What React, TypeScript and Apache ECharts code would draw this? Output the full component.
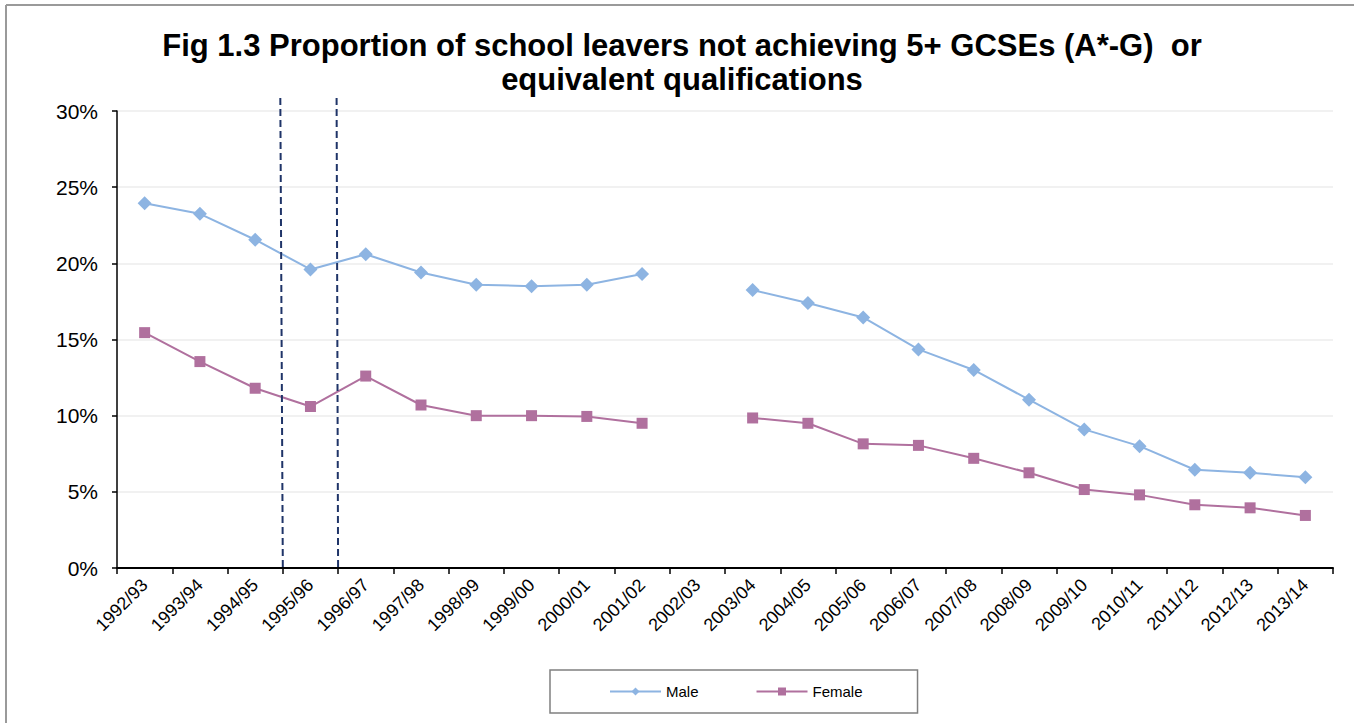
import React, { useEffect, useRef } from "react";
import * as echarts from "echarts";

const TITLE = "Fig 1.3 Proportion of school leavers not achieving 5+ GCSEs (A*-G)  or\nequivalent qualifications";

const categories = [
  "1992/93", "1993/94", "1994/95", "1995/96", "1996/97", "1997/98", "1998/99",
  "1999/00", "2000/01", "2001/02", "2002/03", "2003/04", "2004/05", "2005/06",
  "2006/07", "2007/08", "2008/09", "2009/10", "2010/11", "2011/12", "2012/13", "2013/14",
];

const maleValues: (number | null)[] = [
  23.95, 23.25, 21.55, 19.6, 20.6, 19.4, 18.6, 18.5, 18.6, 19.3, null,
  18.25, 17.4, 16.45, 14.35, 13.0, 11.05, 9.1, 8.0, 6.45, 6.25, 5.95,
];

const femaleValues: (number | null)[] = [
  15.45, 13.55, 11.8, 10.6, 12.6, 10.7, 10.0, 10.0, 9.95, 9.5, null,
  9.85, 9.5, 8.15, 8.05, 7.2, 6.25, 5.15, 4.8, 4.15, 3.95, 3.45,
];

const yTicks = { min: 0, max: 30, interval: 5 };

const FONT = "'Liberation Sans', Arial, Helvetica, sans-serif";

export default function App() {
  const ref = useRef<HTMLDivElement>(null);

  useEffect(() => {
    document.body.style.margin = "0";
    const el = ref.current!;
    const chart = echarts.init(el, null, { renderer: "svg" });
    const option: any = {
      animation: false,
      backgroundColor: "#ffffff",
      title: {
        text: TITLE,
        left: 682,
        top: 28,
        padding: 0,
        textAlign: "center",
        textStyle: {
          fontFamily: FONT,
          fontSize: 31,
          fontWeight: "bold",
          color: "#000000",
          lineHeight: 34,
        },
      },
      grid: { left: 117, right: 21, top: 111, bottom: 155, containLabel: false },
      legend: {
        left: 550,
        top: 670,
        padding: [14, 55, 14, 59],
        itemWidth: 51,
        itemHeight: 10,
        itemGap: 57,
        borderColor: "#808080",
        borderWidth: 1.5,
        borderRadius: 0,
        textStyle: { fontFamily: FONT, fontSize: 15, color: "#000000" },
        data: ["Male", "Female"],
      },
      xAxis: {
        type: "category",
        data: categories,
        boundaryGap: true,
        axisLine: { lineStyle: { color: "#000000", width: 2 } },
        axisTick: { show: true, interval: 0, length: 6, lineStyle: { color: "#000000", width: 1.5 } },
        axisLabel: {
          interval: 0,
          rotate: 45,
          margin: 14,
          fontFamily: FONT,
          fontSize: 18,
          color: "#000000",
        },
        splitLine: { show: false },
      },
      yAxis: {
        type: "value",
        min: yTicks.min,
        max: yTicks.max,
        interval: yTicks.interval,
        axisLine: { show: true, lineStyle: { color: "#000000", width: 1.5 } },
        axisTick: { show: true, length: 5, lineStyle: { color: "#000000", width: 1.5 } },
        axisLabel: {
          formatter: "{value}%",
          margin: 19,
          fontFamily: FONT,
          fontSize: 21,
          color: "#000000",
        },
        splitLine: { show: true, lineStyle: { color: "#ececec", width: 1.5 } },
      },
      series: [
        {
          name: "Male",
          type: "line",
          data: maleValues,
          connectNulls: false,
          symbol: "diamond",
          symbolSize: 14,
          lineStyle: { color: "#8DB4E2", width: 2 },
          itemStyle: { color: "#8DB4E2" },
          z: 3,
        },
        {
          name: "Female",
          type: "line",
          data: femaleValues,
          connectNulls: false,
          symbol: "rect",
          symbolSize: 11,
          lineStyle: { color: "#B0709E", width: 2 },
          itemStyle: { color: "#B0709E" },
          z: 3,
        },
      ],
    };
    chart.setOption(option);

    const px = (i: number) => chart.convertToPixel({ xAxisIndex: 0 }, i) as number;
    const py = (v: number) => chart.convertToPixel({ yAxisIndex: 0 }, v) as number;
    const b1 = (px(2) + px(3)) / 2;
    const b2 = (px(3) + px(4)) / 2;
    const yTop = py(yTicks.max) - 13;
    const yBot = py(0);
    const dashStyle = { stroke: "#1F3468", lineWidth: 2, lineDash: [7, 4] };

    chart.setOption({
      graphic: [
        { type: "line", shape: { x1: b1 - 2.5, y1: yTop, x2: b1, y2: yBot }, style: dashStyle, z: 10 },
        { type: "line", shape: { x1: b2 - 1.5, y1: yTop, x2: b2, y2: yBot }, style: dashStyle, z: 10 },
        { type: "line", shape: { x1: 6, y1: 5, x2: 1354, y2: 5 }, style: { stroke: "#9a9a9a", lineWidth: 2 }, z: 10 },
        { type: "line", shape: { x1: 6, y1: 5, x2: 6, y2: 723 }, style: { stroke: "#9a9a9a", lineWidth: 2 }, z: 10 },
      ],
    });

    return () => chart.dispose();
  }, []);

  return <div ref={ref} style={{ width: 1354, height: 723 }} />;
}
